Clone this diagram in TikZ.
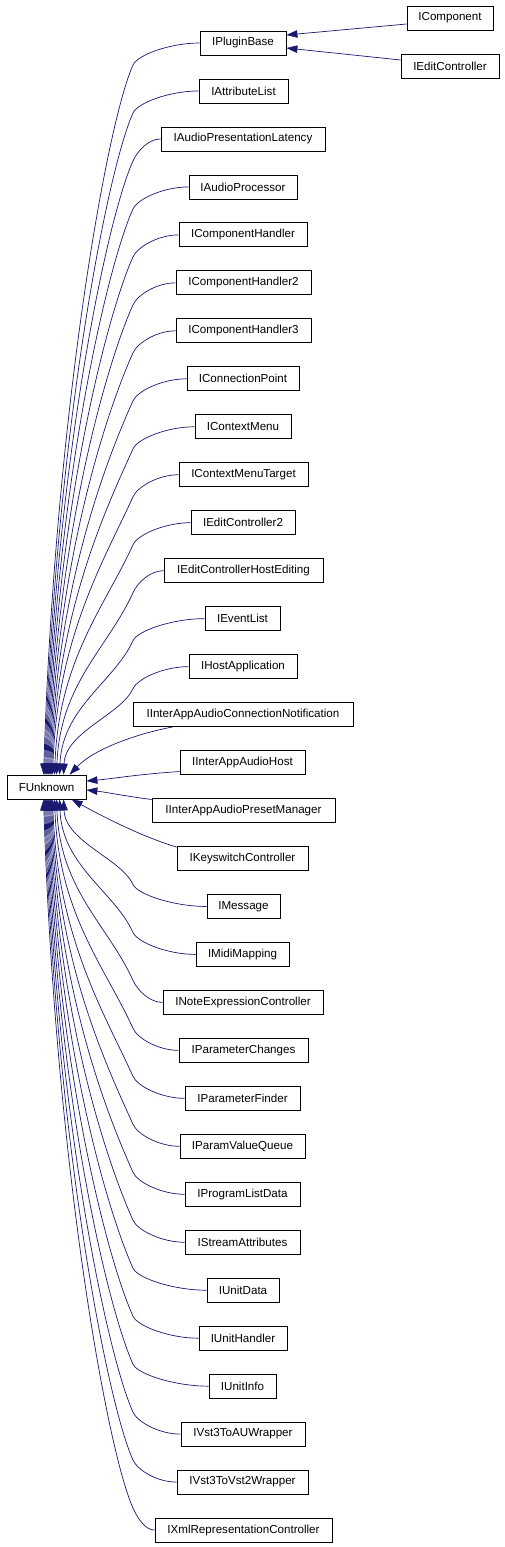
\documentclass[tikz,border=0pt]{standalone}
\usepackage{fontspec}
\setmainfont{Liberation Sans}
\usetikzlibrary{arrows.meta,calc}
\definecolor{edgeblue}{HTML}{191970}
\tikzset{
  box/.style={draw=black, line width=0.8pt, fill=white, inner sep=0pt, minimum height=24pt,
    font=\fontsize{11.6}{14}\selectfont},
  edge/.style={draw=edgeblue, line width=0.7pt, -{Triangle[length=11pt,width=7.5pt]}}
}
\begin{document}
\begin{tikzpicture}[x=1pt,y=-1pt]
\useasboundingbox (0,0) rectangle (504,1547);
% FUnknown
\node[box, minimum width=79pt] (fu) at (46.5,787) {FUnknown};
% children of FUnknown
\foreach \i/\l/\r/\t in {
 1/200/286/IPluginBase,
 2/199/288/IAttributeList,
 3/161/325/IAudioPresentationLatency,
 4/189/297/IAudioProcessor,
 5/179/307/IComponentHandler,
 6/176/311/IComponentHandler2,
 7/176/311/IComponentHandler3,
 8/187/299/IConnectionPoint,
 9/195/291/IContextMenu,
 10/179/308/IContextMenuTarget,
 11/191/295/IEditController2,
 12/164/323/IEditControllerHostEditing,
 13/205/280/IEventList,
 14/189/297/IHostApplication,
 15/133/353/IInterAppAudioConnectionNotification,
 16/180/305/IInterAppAudioHost,
 17/152/335/IInterAppAudioPresetManager,
 18/177/308/IKeyswitchController,
 19/207/280/IMessage,
 20/196/289/IMidiMapping,
 21/163/323/INoteExpressionController,
 22/179/308/IParameterChanges,
 23/185/300/IParameterFinder,
 24/180/305/IParamValueQueue,
 25/185/300/IProgramListData,
 26/185/300/IStreamAttributes,
 27/207/279/IUnitData,
 28/199/287/IUnitHandler,
 29/209/276/IUnitInfo,
 30/181/305/IVst3ToAUWrapper,
 31/177/308/IVst3ToVst2Wrapper,
 32/155/332/IXmlRepresentationController}{
  \pgfmathsetmacro\yc{43+47.97*(\i-1)}
  \pgfmathsetmacro\cx{(\l+\r)/2}
  \pgfmathsetmacro\w{\r-\l}
  \node[box, minimum width=\w pt] (n\i) at (\cx,\yc) {\t};
}
% children of IPluginBase
\node[box, minimum width=86pt] (ic) at (450,18) {IComponent};
\node[box, minimum width=98pt] (iec) at (450,66) {IEditController};
\draw[edge] ($(ic.west)+(0,6)$) -- ($(n1.east)+(0,-8)$);
\draw[edge] ($(iec.west)+(0,-6)$) -- ($(n1.east)+(0,5)$);
% upper edges
\foreach \i/\l/\xt in {1/200/44,2/199/45,3/161/46,4/189/47,5/179/48,6/176/49,7/176/50,8/187/51,9/195/52,10/179/53,11/191/55,12/164/57,13/205/60,14/189/64}{
  \pgfmathsetmacro\yc{43+47.97*(\i-1)}
  \pgfmathsetmacro\dd{775-\yc-22}
  \pgfmathsetmacro\ma{min(60,0.3*\dd)}
  \pgfmathsetmacro\mb{0.5*\dd}
  \pgfmathsetmacro\ca{\l-0.45*(\l-133)}
  \draw[edge] (n\i.west) .. controls (\ca,\yc) and (137.5,\yc+12) .. (133,\yc+22)
    .. controls (133-0.45*\ma,\yc+22+\ma) and (\xt+0.03*\mb,775-\mb) .. ($(fu.north west)+(\xt-7,0)$);
}
% near edges
\draw[edge] ($(n15.south west)+(40,0)$) .. controls (140,733) and (95,748) .. ($(fu.north west)+(63,0)$);
\draw[edge] ($(n16.west)+(0,9)$) .. controls (140,774) and (110,779) .. ($(fu.east)+(0,-6)$);
\draw[edge] ($(n17.west)+(0,-11)$) .. controls (125,796) and (105,792) .. ($(fu.east)+(0,3)$);
\draw[edge] ($(n18.north west)+(0,1)$) .. controls (140,836) and (100,815) .. ($(fu.south west)+(65,0)$);
% lower edges
\foreach \i/\l/\xt in {19/207/64,20/196/60,21/163/57,22/179/55,23/185/53,24/180/52,25/185/51,26/185/50,27/207/49,28/199/48,29/209/47,30/181/46,31/177/45,32/155/44}{
  \pgfmathsetmacro\yc{43+47.97*(\i-1)}
  \pgfmathsetmacro\dd{\yc-22-799}
  \pgfmathsetmacro\ma{min(60,0.3*\dd)}
  \pgfmathsetmacro\mb{0.5*\dd}
  \pgfmathsetmacro\ca{\l-0.45*(\l-133)}
  \draw[edge] (n\i.west) .. controls (\ca,\yc) and (137.5,\yc-12) .. (133,\yc-22)
    .. controls (133-0.45*\ma,\yc-22-\ma) and (\xt+0.03*\mb,799+\mb) .. ($(fu.south west)+(\xt-7,0)$);
}
\end{tikzpicture}
\end{document}
